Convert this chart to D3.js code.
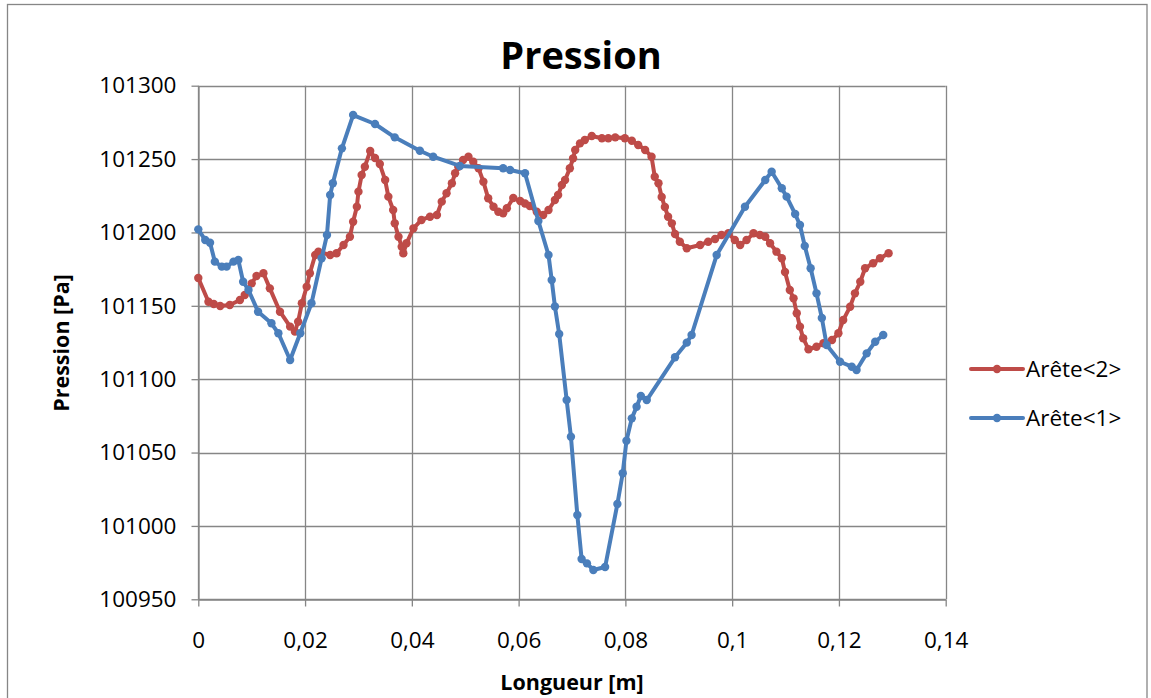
<!DOCTYPE html>
<html>
<head>
<meta charset="utf-8">
<script src="https://cdn.jsdelivr.net/npm/d3@7"></script>
<style>
  html, body { margin: 0; padding: 0; background: #fff; }
  svg { display: block; }
</style>
</head>
<body>
<script>
// Pressure along two edges (Arête<1>, Arête<2>) vs. length
const seriesNames = ["Arête<2>", "Arête<1>"];
const seriesColors = ["#BE4B48", "#4A7EBB"];

const arete2X = [0, 0.0019, 0.0029, 0.0041, 0.0059, 0.0078, 0.0087, 0.0100, 0.0109, 0.0122,
  0.0134, 0.0153, 0.0172, 0.0181, 0.0187, 0.0194, 0.0203, 0.0209, 0.0219, 0.0225,
  0.0247, 0.0259, 0.0272, 0.0284, 0.0290, 0.0297, 0.0300, 0.0306, 0.0312, 0.0322,
  0.0331, 0.0340, 0.0350, 0.0356, 0.0365, 0.0368, 0.0375, 0.0381, 0.0384, 0.0390,
  0.0403, 0.0418, 0.0434, 0.0447, 0.0456, 0.0465, 0.0475, 0.0481, 0.0487, 0.0496,
  0.0506, 0.0515, 0.0525, 0.0534, 0.0543, 0.0553, 0.0562, 0.0571, 0.0578, 0.0590,
  0.0603, 0.0612, 0.0621, 0.0634, 0.0646, 0.0656, 0.0668, 0.0674, 0.0681, 0.0687,
  0.0696, 0.0702, 0.0706, 0.0715, 0.0724, 0.0737, 0.0756, 0.0768, 0.0781, 0.0799,
  0.0812, 0.0824, 0.0837, 0.0849, 0.0855, 0.0862, 0.0868, 0.0874, 0.0880, 0.0887,
  0.0893, 0.0902, 0.0915, 0.0940, 0.0955, 0.0968, 0.0980, 0.0993, 0.1005, 0.1015,
  0.1027, 0.1040, 0.1052, 0.1062, 0.1071, 0.1083, 0.1093, 0.1099, 0.1108, 0.1115,
  0.1121, 0.1127, 0.1133, 0.1143, 0.1158, 0.1171, 0.1187, 0.1199, 0.1208, 0.1221,
  0.1230, 0.1240, 0.1249, 0.1264, 0.1277, 0.1293];
const arete2P = [101169.0, 101152.8, 101151.2, 101149.9, 101150.6, 101154.0, 101157.4, 101165.3, 101170.3, 101172.2,
  101161.9, 101146.0, 101135.8, 101132.4, 101139.2, 101151.7, 101163.0, 101172.2, 101184.6, 101186.9,
  101184.6, 101185.8, 101191.4, 101197.1, 101207.3, 101217.5, 101227.8, 101239.1, 101244.8, 101255.5,
  101250.7, 101246.6, 101235.7, 101224.4, 101215.3, 101206.2, 101197.1, 101190.3, 101185.8, 101192.6,
  101202.8, 101208.5, 101210.7, 101211.9, 101221.0, 101226.7, 101233.5, 101240.3, 101244.8, 101249.4,
  101251.6, 101248.2, 101243.7, 101234.6, 101223.3, 101217.5, 101214.1, 101213.0, 101216.5, 101223.5,
  101221.4, 101219.7, 101218.0, 101214.1, 101211.9, 101215.3, 101222.1, 101225.5, 101232.3, 101235.7,
  101243.7, 101250.5, 101256.2, 101260.7, 101263.0, 101265.7, 101264.2, 101264.2, 101264.8, 101264.2,
  101262.5, 101259.6, 101256.2, 101251.6, 101238.0, 101233.5, 101224.2, 101217.3, 101210.7, 101206.2,
  101198.9, 101193.7, 101189.2, 101191.4, 101193.7, 101195.5, 101198.3, 101199.4, 101194.8, 101191.4,
  101194.8, 101199.4, 101198.3, 101197.1, 101192.6, 101186.9, 101182.4, 101173.0, 101160.8, 101155.1,
  101144.9, 101135.8, 101127.9, 101120.4, 101122.1, 101124.5, 101126.7, 101131.3, 101140.3, 101149.4,
  101158.5, 101166.4, 101175.6, 101179.0, 101182.4, 101185.8];

const arete1X = [0, 0.0013, 0.0022, 0.0031, 0.0044, 0.0053, 0.0066, 0.0075, 0.0084, 0.0094,
  0.0112, 0.0137, 0.0150, 0.0172, 0.0191, 0.0212, 0.0231, 0.0241, 0.0247, 0.0252,
  0.0269, 0.0290, 0.0331, 0.0368, 0.0415, 0.0440, 0.0490, 0.0571, 0.0584, 0.0612,
  0.0637, 0.0656, 0.0662, 0.0668, 0.0676, 0.0690, 0.0698, 0.0710, 0.0718, 0.0728,
  0.0740, 0.0762, 0.0785, 0.0795, 0.0802, 0.0812, 0.0821, 0.0829, 0.0840, 0.0893,
  0.0915, 0.0924, 0.0971, 0.1024, 0.1062, 0.1074, 0.1093, 0.1102, 0.1118, 0.1127,
  0.1136, 0.1147, 0.1158, 0.1168, 0.1177, 0.1202, 0.1224, 0.1233, 0.1252, 0.1268,
  0.1283];
const arete1P = [101202.1, 101194.8, 101193.0, 101180.1, 101176.7, 101176.7, 101180.1, 101181.2, 101166.4, 101160.8,
  101146.0, 101138.1, 101131.3, 101113.1, 101131.3, 101151.7, 101182.4, 101198.3, 101225.5, 101233.5,
  101257.3, 101280.0, 101273.9, 101264.8, 101255.7, 101251.6, 101245.3, 101243.7, 101242.6, 101240.3,
  101207.8, 101184.6, 101167.6, 101149.5, 101130.8, 101085.8, 101060.8, 101007.4, 100977.5, 100974.5,
  100970.0, 100972.0, 101014.9, 101035.9, 101058.1, 101073.3, 101081.2, 101088.5, 101085.8, 101114.9,
  101124.9, 101130.1, 101184.6, 101217.5, 101235.7, 101241.4, 101230.1, 101224.4, 101212.6, 101205.1,
  101190.8, 101175.6, 101158.5, 101141.7, 101123.3, 101111.9, 101108.5, 101106.3, 101117.6, 101125.5,
  101130.1];

const xTickValues = [0, 0.02, 0.04, 0.06, 0.08, 0.10, 0.12, 0.14];
const xTickLabels = ["0", "0,02", "0,04", "0,06", "0,08", "0,1", "0,12", "0,14"];
const yTickValues = [100950, 101000, 101050, 101100, 101150, 101200, 101250, 101300];
const yTickLabels = ["100950", "101000", "101050", "101100", "101150", "101200", "101250", "101300"];

const titleText = "Pression";
const xAxisTitle = "Longueur [m]";
const yAxisTitle = "Pression [Pa]";

// ---- layout ----
const W = 1151, H = 698;
const plot = { left: 198.3, right: 945.7, top: 85.7, bottom: 599.3 };
const gridColor = "#868686";
const fontFamily = "'Open Sans', 'Noto Sans', sans-serif";
const tickFontSize = "22.5px";

const svg = d3.select("body").append("svg")
  .attr("width", W).attr("height", H);

svg.append("rect").attr("x", 0).attr("y", 0).attr("width", W).attr("height", H).attr("fill", "#fff");

// outer chart frame
svg.append("rect")
  .attr("x", 7.5).attr("y", 4.5)
  .attr("width", 1139.5).attr("height", 720)
  .attr("fill", "none").attr("stroke", gridColor).attr("stroke-width", 1.3);

const x = d3.scaleLinear().domain([0, 0.14]).range([plot.left, plot.right]);
const y = d3.scaleLinear().domain([100950, 101300]).range([plot.bottom, plot.top]);

// gridlines
const grid = svg.append("g").attr("stroke", gridColor).attr("stroke-width", 1.3);
grid.selectAll("line.h").data(yTickValues).join("line")
  .attr("x1", plot.left).attr("x2", plot.right)
  .attr("y1", d => Math.round(y(d)) + 0.5).attr("y2", d => Math.round(y(d)) + 0.5);
grid.selectAll("line.v").data(xTickValues).join("line")
  .attr("y1", plot.top).attr("y2", plot.bottom)
  .attr("x1", d => Math.round(x(d)) + 0.5).attr("x2", d => Math.round(x(d)) + 0.5);

// axes
const xAxis = d3.axisBottom(x).tickValues(xTickValues)
  .tickFormat((d, i) => xTickLabels[i]).tickSizeInner(7).tickSizeOuter(0).tickPadding(26);
const yAxis = d3.axisLeft(y).tickValues(yTickValues)
  .tickFormat((d, i) => yTickLabels[i]).tickSizeInner(7).tickSizeOuter(0).tickPadding(15);

const gx = svg.append("g").attr("transform", `translate(0,${Math.round(plot.bottom) + 0.5})`).call(xAxis);
const gy = svg.append("g").attr("transform", `translate(${Math.round(plot.left) + 0.5},0)`).call(yAxis);
[gx, gy].forEach(g => {
  g.selectAll("path.domain").attr("stroke", gridColor).attr("stroke-width", 1.3);
  g.selectAll(".tick line").attr("stroke", gridColor).attr("stroke-width", 1.3);
  g.selectAll(".tick text").attr("fill", "#000")
    .style("font-family", fontFamily).style("font-size", tickFontSize);
});

// series
const series = [
  { name: seriesNames[0], color: seriesColors[0], xs: arete2X, ps: arete2P },
  { name: seriesNames[1], color: seriesColors[1], xs: arete1X, ps: arete1P }
];

const line = d3.line().x(d => x(d[0])).y(d => y(d[1]));

series.forEach(s => {
  const pts = s.xs.map((v, i) => [v, s.ps[i]]);
  const g = svg.append("g");
  g.append("path").datum(pts)
    .attr("d", line)
    .attr("fill", "none")
    .attr("stroke", s.color)
    .attr("stroke-width", 4)
    .attr("stroke-linejoin", "round")
    .attr("stroke-linecap", "round");
  g.selectAll("circle").data(pts).join("circle")
    .attr("cx", d => x(d[0])).attr("cy", d => y(d[1]))
    .attr("r", 4.2).attr("fill", s.color);
});

// title
svg.append("text")
  .attr("x", 581).attr("y", 68.5)
  .attr("text-anchor", "middle")
  .style("font-family", fontFamily).style("font-weight", "bold").style("font-size", "38px")
  .text(titleText);

// axis titles
svg.append("text")
  .attr("x", 572).attr("y", 690)
  .attr("text-anchor", "middle")
  .style("font-family", fontFamily).style("font-weight", "bold").style("font-size", "21.5px")
  .text(xAxisTitle);

svg.append("text")
  .attr("transform", `translate(69,343) rotate(-90)`)
  .attr("text-anchor", "middle")
  .style("font-family", fontFamily).style("font-weight", "bold").style("font-size", "21.5px")
  .text(yAxisTitle);

// legend
const legend = svg.append("g");
series.forEach((s, i) => {
  const ly = 369 + i * 49;
  legend.append("line")
    .attr("x1", 971).attr("x2", 1023).attr("y1", ly).attr("y2", ly)
    .attr("stroke", s.color).attr("stroke-width", 4).attr("stroke-linecap", "round");
  legend.append("circle").attr("cx", 997).attr("cy", ly).attr("r", 4.2).attr("fill", s.color);
  legend.append("text")
    .attr("x", 1026).attr("y", ly).attr("dy", "0.36em")
    .style("font-family", fontFamily).style("font-size", tickFontSize)
    .text(s.name);
});
</script>
</body>
</html>
